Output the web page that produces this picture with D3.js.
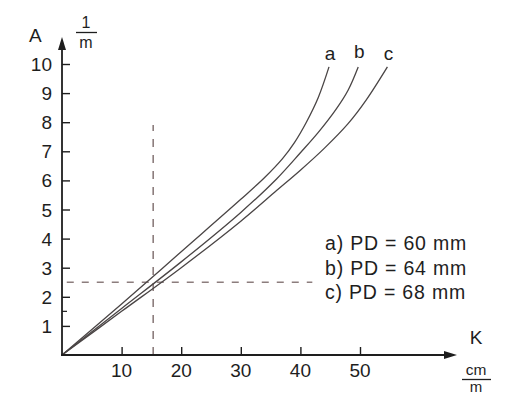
<!DOCTYPE html>
<html><head><meta charset="utf-8">
<script src="https://cdn.jsdelivr.net/npm/d3@7"></script>
<style>
html,body{margin:0;padding:0;background:#fff;}
svg{display:block;}
text{font-family:"Liberation Sans",Arial,Helvetica,sans-serif;fill:#1e1e1e;}
</style></head>
<body>
<svg id="chart" width="526" height="395"></svg>
<script>
// ---- data ----
const xTicks = [10, 20, 30, 40, 50];
const yTicks = [1, 2, 3, 4, 5, 6, 7, 8, 9, 10];
const yMinorTicks = [1.5];
const curveNames = ["a", "b", "c"];
const legendLabels = ["a) PD = 60 mm", "b) PD = 64 mm", "c) PD = 68 mm"];
const kA = [0, 10, 20, 30, 34, 37, 39, 41, 43, 44.8];
const aA = [0, 1.75, 3.55, 5.35, 6.1, 6.75, 7.3, 8.0, 8.85, 9.9];
const kB = [0, 10, 20, 30, 36, 40, 43, 46, 48, 49.7];
const aB = [0, 1.6, 3.2, 4.9, 6.05, 6.95, 7.65, 8.45, 9.1, 9.9];
const kC = [0, 10, 20, 30, 36, 40, 44, 48, 51, 54.6];
const aC = [0, 1.5, 3.0, 4.6, 5.65, 6.35, 7.1, 7.95, 8.75, 9.9];
const markK = 15.3, markA = 2.5, markTopA = 7.9, markRightK = 42;

// ---- scales ----
const x = d3.scaleLinear().domain([0, 50]).range([62, 360]);
const y = d3.scaleLinear().domain([0, 10]).range([355, 64]);
const svg = d3.select("#chart");
const ink = "#1e1e1e";

// dashed guide lines
svg.append("line").attr("x1", x(markK)).attr("x2", x(markK))
  .attr("y1", y(0)).attr("y2", y(markTopA))
  .attr("stroke", "#8c7d7d").attr("stroke-width", 1.6).attr("stroke-dasharray", "8,8");
svg.append("line").attr("x1", x(0.8)).attr("x2", x(markRightK))
  .attr("y1", y(markA)).attr("y2", y(markA))
  .attr("stroke", "#8c7d7d").attr("stroke-width", 1.6).attr("stroke-dasharray", "7,8");

// curves
const series = [[kA, aA], [kB, aB], [kC, aC]];
const line = d3.line().x(d => x(d[0])).y(d => y(d[1])).curve(d3.curveCatmullRom.alpha(0.5));
series.forEach(([ks, as], i) => {
  const pts = ks.map((k, j) => [k, as[j]]);
  svg.append("path").attr("d", line(pts)).attr("fill", "none")
    .attr("stroke", "#4a4545").attr("stroke-width", 1.3);
  const last = pts[pts.length - 1];
  svg.append("text").attr("x", x(last[0]) + 1).attr("y", y(last[1]) - 7 + (i === 1 ? -2 : 0))
    .attr("text-anchor", "middle").attr("font-size", 19).text(curveNames[i]);
});

// y axis
const yAxis = d3.axisRight(y).tickValues(yTicks).tickSize(8).tickFormat("");
const gy = svg.append("g").attr("transform", `translate(${x(0)},0)`).call(yAxis);
gy.select(".domain").remove();
gy.selectAll(".tick line").attr("stroke", ink).attr("stroke-width", 1.4);
svg.append("g").selectAll("line").data(yMinorTicks).join("line")
  .attr("x1", x(0)).attr("x2", x(0) + 5).attr("y1", d => y(d)).attr("y2", d => y(d))
  .attr("stroke", ink).attr("stroke-width", 1.2);
svg.append("g").selectAll("text").data(yTicks).join("text")
  .attr("x", 52).attr("y", d => y(d) + 7).attr("text-anchor", "end")
  .attr("font-size", 19).text(d => d);
svg.append("line").attr("x1", x(0)).attr("x2", x(0)).attr("y1", y(0) + 1).attr("y2", 46)
  .attr("stroke", ink).attr("stroke-width", 1.8);
svg.append("path").attr("d", `M${x(0)},37 L${x(0) - 4},50 L${x(0) + 4},50 Z`).attr("fill", ink);

// x axis
const xAxis = d3.axisTop(x).tickValues(xTicks).tickSize(8).tickFormat("");
const gx = svg.append("g").attr("transform", `translate(0,${y(0)})`).call(xAxis);
gx.select(".domain").remove();
gx.selectAll(".tick line").attr("stroke", ink).attr("stroke-width", 1.4);
svg.append("g").selectAll("text").data(xTicks).join("text")
  .attr("x", d => x(d)).attr("y", 377).attr("text-anchor", "middle")
  .attr("font-size", 19).text(d => d);
svg.append("line").attr("x1", x(0) - 1).attr("x2", 448).attr("y1", y(0)).attr("y2", y(0))
  .attr("stroke", ink).attr("stroke-width", 1.8);
svg.append("path").attr("d", `M457,${y(0)} L444,${y(0) - 4} L444,${y(0) + 4} Z`).attr("fill", ink);

// axis titles
svg.append("text").attr("x", 29).attr("y", 42).attr("font-size", 19).text("A");
svg.append("text").attr("x", 86).attr("y", 28).attr("text-anchor", "middle").attr("font-size", 16).text("1");
svg.append("line").attr("x1", 76).attr("x2", 97).attr("y1", 32.5).attr("y2", 32.5).attr("stroke", ink).attr("stroke-width", 1.3);
svg.append("text").attr("x", 86).attr("y", 48).attr("text-anchor", "middle").attr("font-size", 16).text("m");

svg.append("text").attr("x", 476).attr("y", 344).attr("text-anchor", "middle").attr("font-size", 19).text("K");
svg.append("text").attr("x", 476).attr("y", 374.5).attr("text-anchor", "middle").attr("font-size", 15.5).text("cm");
svg.append("line").attr("x1", 462).attr("x2", 491).attr("y1", 379.5).attr("y2", 379.5).attr("stroke", ink).attr("stroke-width", 1.3);
svg.append("text").attr("x", 476).attr("y", 391.5).attr("text-anchor", "middle").attr("font-size", 15).text("m");

// legend
svg.append("g").selectAll("text").data(legendLabels).join("text")
  .attr("x", 325).attr("y", (d, i) => 250 + i * 24.5)
  .attr("font-size", 19.5).attr("letter-spacing", 0.8).text(d => d);
</script>
</body></html>
